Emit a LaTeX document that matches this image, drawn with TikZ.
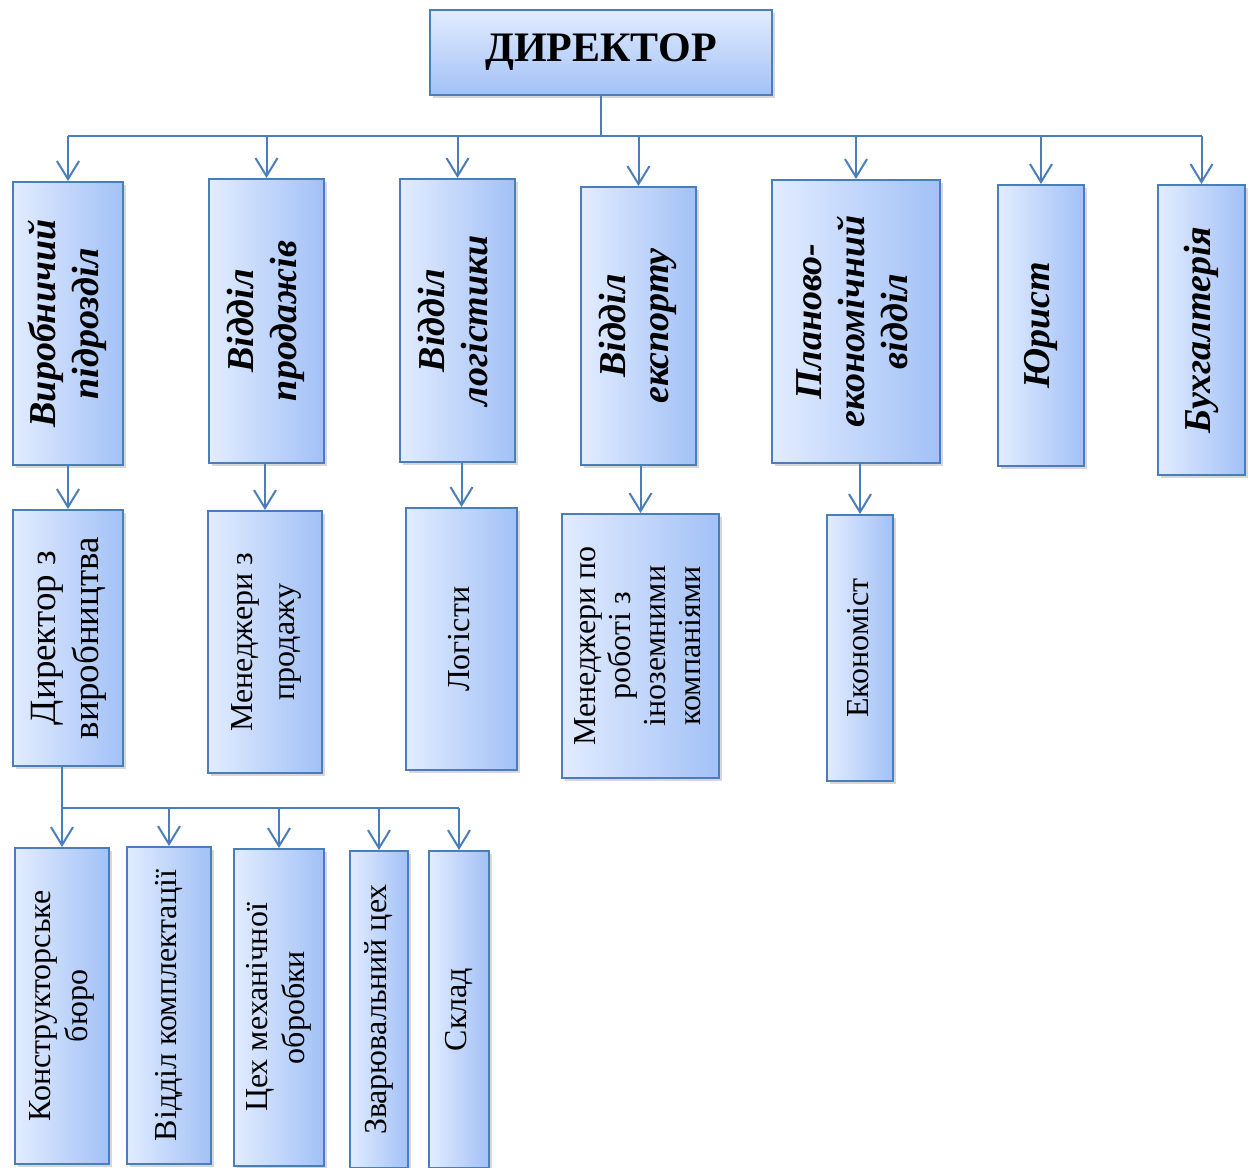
\documentclass[tikz,border=0pt]{standalone}
\usepackage{fontspec}
\setmainfont{Liberation Serif}
\usepackage{graphicx}
\usetikzlibrary{arrows.meta,shadows}

\definecolor{lineblue}{HTML}{4A7EBB}
\definecolor{boxlight}{HTML}{E2ECFF}
\definecolor{boxdark}{HTML}{A2C1F6}

\newcommand{\vtext}[1]{\rotatebox{90}{\begin{tabular}{@{}c@{}}#1\end{tabular}}}

\begin{document}
\begin{tikzpicture}[x=0.5pt, y=-0.5pt, frame/.style={draw=lineblue, line width=1pt, inner sep=0pt, drop shadow={shadow xshift=1.5pt, shadow yshift=-1.5pt, opacity=0.35, fill=black!45}}, dirbox/.style={frame, top color=boxlight, bottom color=boxdark, font=\bfseries\fontsize{21}{24}\selectfont}, dept/.style={frame, left color=boxlight, right color=boxdark, font=\bfseries\itshape\fontsize{19}{21.5}\selectfont}, staff/.style={frame, left color=boxlight, right color=boxdark, font=\fontsize{16}{21}\selectfont}, unit/.style={frame, left color=boxlight, right color=boxdark, font=\fontsize{16}{18.5}\selectfont}, n/.style={draw=lineblue, line width=1pt}, a/.style={n, -{Straight Barb[length=9pt, width=11pt]}}]
            \clip (0,0) rectangle (1252,1167);
            % nodes
            \node[dirbox, minimum width=171pt, minimum height=42.5pt] (dir) at (601,52.5) {ДИРЕКТОР};

            \node[dept, minimum width=55pt, minimum height=141.5pt] (vyrob) at (68,323.5) {\vtext{Виробничий\\підрозділ}};
            \node[dept, minimum width=57.5pt, minimum height=142pt] (prod) at (266.5,321) {\vtext{Відділ\\продажів}};
            \node[dept, minimum width=57.5pt, minimum height=141.5pt] (logist) at (457.5,320.5) {\vtext{Відділ\\логістики}};
            \node[dept, minimum width=57.5pt, minimum height=139pt] (eksport) at (638.5,326) {\vtext{Відділ\\експорту}};
            \node[dept, minimum width=84pt, minimum height=141.5pt] (plan) at (856,321.5) {\vtext{Планово-\\економічний\\відділ}};
            \node[dept, minimum width=43pt, minimum height=140.5pt] (yuryst) at (1041,325.5) {\vtext{Юрист}};
            \node[dept, minimum width=43.5pt, minimum height=145pt] (buh) at (1201.5,330) {\vtext{Бухгалтерія}};

            \node[staff, minimum width=55pt, minimum height=128pt, font=\fontsize{18.5}{21.5}\selectfont] (dirvyrob) at (68,638) {\vtext{Директор з\\виробництва}};
            \node[staff, minimum width=57pt, minimum height=131pt] (menprod) at (265,642) {\vtext{Менеджери з\\продажу}};
            \node[staff, minimum width=55.5pt, minimum height=131pt] (logisty) at (461.5,639) {\vtext{Логісти}};
            \node[staff, minimum width=78.5pt, minimum height=132pt, font=\fontsize{16}{17.5}\selectfont] (meneksp) at (640.5,646) {\vtext{Менеджери по\\роботі з\\іноземними\\компаніями}};
            \node[staff, minimum width=33pt, minimum height=133pt] (ekonom) at (860,648) {\vtext{Економіст}};

            \node[unit, minimum width=47pt, minimum height=158pt] (konstr) at (62,1006) {\vtext{Конструкторське\\бюро}};
            \node[unit, minimum width=42pt, minimum height=158.5pt] (kompl) at (169,1005.5) {\vtext{Відділ комплектації}};
            \node[unit, minimum width=45pt, minimum height=158.5pt] (tseh) at (279,1007.5) {\vtext{Цех механічної\\обробки}};
            \node[unit, minimum width=29pt, minimum height=158.5pt] (zvar) at (379,1009.5) {\vtext{Зварювальний цех}};
            \node[unit, minimum width=30pt, minimum height=158.5pt] (sklad) at (459,1009.5) {\vtext{Склад}};

            \coordinate (bus) at (601,136);
            \coordinate (bus2) at (62,808);
            % edges
            \draw [n] (dir.south) -- (bus);
            \draw [n] (vyrob.north |- bus) -- (buh.north |- bus);
            \foreach \d in {vyrob, prod, logist, eksport, plan, yuryst, buh}
                \draw [a] (\d.north |- bus) -- (\d.north);

            \draw [a] (dirvyrob.north |- vyrob.south) -- (dirvyrob.north);
            \draw [a] (menprod.north |- prod.south) -- (menprod.north);
            \draw [a] (logisty.north |- logist.south) -- (logisty.north);
            \draw [a] (meneksp.north |- eksport.south) -- (meneksp.north);
            \draw [a] (ekonom.north |- plan.south) -- (ekonom.north);

            \draw [n] (dirvyrob.south -| bus2) -- (bus2);
            \draw [n] (bus2) -- (sklad.north |- bus2);
            \foreach \u in {konstr, kompl, tseh, zvar, sklad}
                \draw [a] (\u.north |- bus2) -- (\u.north);
        \end{tikzpicture}
\end{document}
